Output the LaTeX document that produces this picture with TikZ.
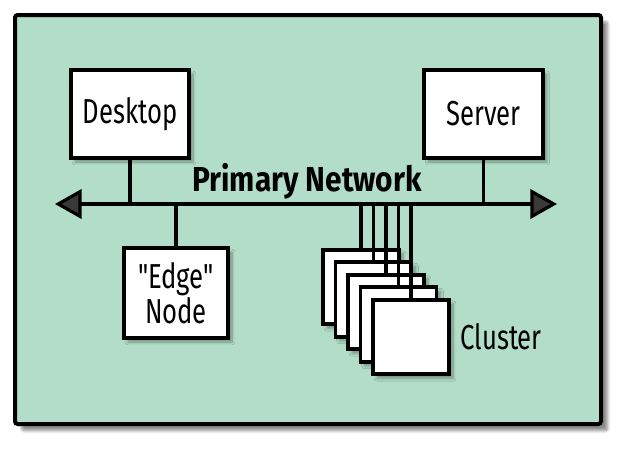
\documentclass[tikz,border=0pt]{standalone}
\usepackage{fontspec}
\setmainfont{Fira Sans}[Ligatures=TeXOff, FakeStretch=0.74, BoldFeatures={FakeStretch=0.86}]
\usetikzlibrary{arrows.meta,shadows.blur}
\definecolor{netgreen}{HTML}{B2DDC8}
\begin{document}
\begin{tikzpicture}[x=0.75pt,y=-0.75pt, line width=2.4pt,
  every node/.style={font=\fontsize{26}{26}\selectfont},
  box/.style={draw, fill=white, line width=2.8pt, inner sep=0pt, align=center,
    blur shadow={shadow xshift=3pt, shadow yshift=-3pt, shadow opacity=35, shadow blur steps=8}},
  peer/.style={box, minimum width=57pt, minimum height=56pt}]
\useasboundingbox (0,0) rectangle (623,450);
% background panel
\draw[fill=netgreen, line width=3pt, rounded corners=2pt,
  blur shadow={shadow xshift=5pt, shadow yshift=-5pt, shadow opacity=45, shadow blur steps=10}]
  (15,15) rectangle (601,424);
\coordinate (netL) at (55,204);
\coordinate (netR) at (557,204);
\node (netlabel) at (307,181) {\bfseries Primary Network};
\node[box, minimum width=88.5pt, minimum height=66pt] (desktop) at (130,114) {Desktop};
\node[box, minimum width=89pt, minimum height=66pt] (server) at (483.5,114) {Server};
\node[box, minimum width=78pt, minimum height=67.5pt] (edge) at (176,293) {"Edge"\\Node};
\foreach \i in {1,...,5}
  \node[peer] (c\i) at ({361+12.5*(\i-1)},{287+12.5*(\i-1)}) {};
\node[right=6pt, inner sep=0pt] (cluster) at (c5.east) {Cluster};
\draw[{Triangle[length=20pt,width=22pt]}-{Triangle[length=20pt,width=22pt]}] (netL) -- (netR);
\draw (desktop.south) -- (desktop.south |- netL);
\draw (server.south) -- (server.south |- netL);
\draw (edge.north) -- (edge.north |- netL);
\foreach \i in {1,...,5}
  \draw (c\i.north) -- (c\i.north |- netL);
\end{tikzpicture}
\end{document}
